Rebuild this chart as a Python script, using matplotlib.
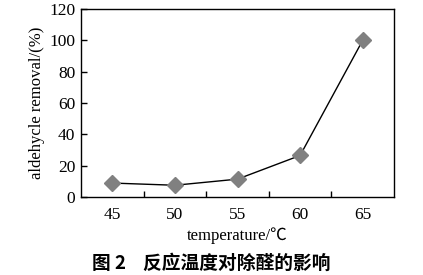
import matplotlib
matplotlib.use("Agg")
import matplotlib.pyplot as plt
import numpy as np

temperatures = ["45", "50", "55", "60", "65"]
removal = [8.9, 7.5, 11.4, 26.5, 100.0]
yticks = [0, 20, 40, 60, 80, 100, 120]

serif = ['Liberation Serif', 'Noto Sans CJK SC', 'DejaVu Sans']
plt.rcParams['font.family'] = serif

fig = plt.figure(figsize=(4.23, 2.75), dpi=100)
ax = fig.add_axes([81/423, 1-197/275, (394-81)/423, (197-9)/275])

x = np.arange(len(temperatures))
ax.plot(x, removal, color='black', linewidth=1.0, marker='D', markersize=8.5,
        markerfacecolor='#808080', markeredgecolor='#808080', zorder=3)

ax.set_xlim(-0.5, len(temperatures) - 0.5)
ax.set_ylim(0, 120)
ax.set_yticks(yticks)
ax.set_yticklabels([str(v) for v in yticks], fontsize=12.5)
ax.set_xticks(x)
ax.set_xticklabels(temperatures, fontsize=12.5)
ax.tick_params(axis='x', which='major', length=0, pad=7)
ax.set_xticks(np.arange(0.5, len(temperatures) - 1, 1.0), minor=True)
ax.tick_params(axis='x', which='minor', direction='in', length=4, width=1)
ax.tick_params(axis='y', direction='in', length=4, width=1, pad=4)
for s in ax.spines.values():
    s.set_linewidth(1.0)

ax.set_xlabel("temperature/℃", fontsize=12, labelpad=3)
ax.set_ylabel("aldehycle removal/(%)", fontsize=12, labelpad=3)

fig.text(0.5, 1 - 263/275, "图 2    反应温度对除醛的影响", ha='center', va='center',
         fontsize=13.5, fontweight='bold', family=['Noto Sans CJK SC', 'DejaVu Sans'])

fig.savefig("out.png", dpi=100)
